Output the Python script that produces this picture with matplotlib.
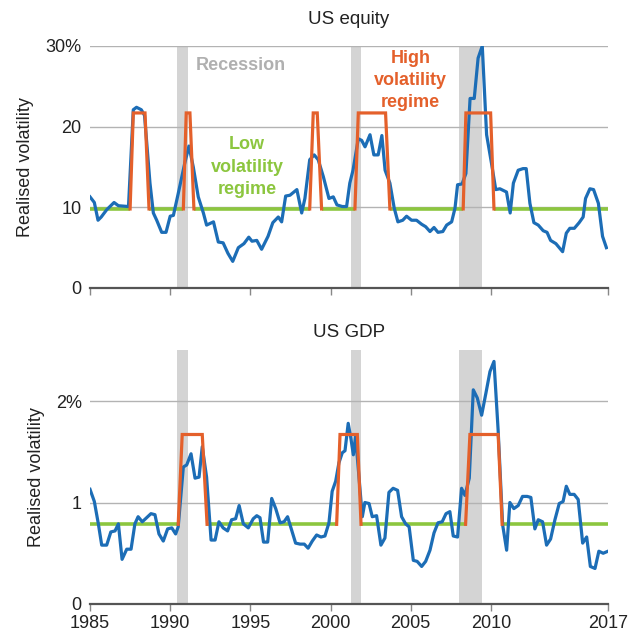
import numpy as np
import matplotlib
matplotlib.use("Agg")
import matplotlib.pyplot as plt

plt.rcParams['font.family'] = ['Liberation Sans', 'DejaVu Sans']

# US equity realised volatility (%)
eq_years = [1985.0, 1985.27, 1985.5, 1985.7, 1986.04, 1986.5, 1986.77, 1987.4, 1987.7, 1987.9,
            1988.2, 1988.4, 1988.74, 1988.95, 1989.16, 1989.47, 1989.74, 1990.0, 1990.2, 1990.5,
            1990.9, 1991.17, 1991.44, 1991.75, 1992.07, 1992.27, 1992.7, 1993.0, 1993.3, 1993.6,
            1993.9, 1994.25, 1994.6, 1994.9, 1995.1, 1995.4, 1995.7, 1996.1, 1996.4, 1996.74,
            1996.95, 1997.2, 1997.47, 1997.9, 1998.2, 1998.4, 1998.7, 1998.98, 1999.23, 1999.55,
            1999.9, 2000.17, 2000.4, 2000.73, 2001.0, 2001.2, 2001.4, 2001.73, 2001.94, 2002.15,
            2002.46, 2002.7, 2002.97, 2003.2, 2003.4, 2003.7, 2003.97, 2004.2, 2004.5, 2004.74,
            2005.05, 2005.36, 2005.68, 2005.93, 2006.2, 2006.45, 2006.7, 2007.0, 2007.24, 2007.55,
            2007.76, 2007.92, 2008.2, 2008.44, 2008.7, 2008.96, 2009.2, 2009.46, 2009.73, 2010.04,
            2010.3, 2010.56, 2010.97, 2011.2, 2011.4, 2011.7, 2012.0, 2012.2, 2012.43, 2012.68,
            2012.95, 2013.26, 2013.5, 2013.72, 2014.05, 2014.47, 2014.7, 2014.92, 2015.2, 2015.5,
            2015.75, 2015.9, 2016.17, 2016.4, 2016.7, 2016.96, 2017.2]
eq_vol = [11.3, 10.6, 8.4, 8.8, 9.7, 10.6, 10.2, 10.1, 22.1, 22.4,
          22.1, 21.4, 13.0, 9.3, 8.4, 6.9, 6.9, 8.9, 9.0, 11.7,
          15.4, 17.6, 15.0, 11.3, 9.3, 7.8, 8.2, 5.7, 5.6, 4.3,
          3.3, 5.0, 5.5, 6.3, 5.8, 5.9, 4.8, 6.4, 8.1, 8.8,
          8.2, 11.4, 11.5, 12.2, 9.3, 11.1, 15.9, 16.5, 15.9, 13.8,
          11.1, 11.3, 10.3, 10.1, 10.1, 13.0, 14.6, 18.5, 18.3, 17.5,
          19.0, 16.5, 16.5, 18.9, 14.6, 13.0, 9.9, 8.2, 8.4, 8.9,
          8.4, 8.4, 7.9, 7.6, 7.0, 7.5, 6.9, 7.0, 7.8, 8.2,
          9.9, 12.8, 12.9, 14.2, 23.5, 23.5, 28.5, 30.0, 19.0, 15.4,
          12.2, 12.3, 11.9, 9.3, 13.0, 14.6, 14.8, 14.8, 10.5, 8.1,
          7.8, 7.1, 6.9, 5.9, 5.5, 4.5, 6.8, 7.4, 7.4, 8.1,
          8.8, 11.1, 12.3, 12.2, 10.5, 6.4, 5.0]

# US GDP realised volatility (%)
gdp_years = [1985.0, 1985.27, 1985.52, 1985.73, 1986.04, 1986.3, 1986.56, 1986.77, 1987.0, 1987.29,
             1987.56, 1987.8, 1988.0, 1988.26, 1988.53, 1988.8, 1989.05, 1989.3, 1989.57, 1989.84,
             1990.1, 1990.34, 1990.5, 1990.82, 1991.03, 1991.3, 1991.55, 1991.8, 1992.0, 1992.27,
             1992.55, 1992.8, 1993.04, 1993.3, 1993.58, 1993.83, 1994.08, 1994.3, 1994.56, 1994.87,
             1995.18, 1995.4, 1995.6, 1995.82, 1996.08, 1996.33, 1996.58, 1996.85, 1997.1, 1997.32,
             1997.53, 1997.82, 1998.1, 1998.36, 1998.6, 1998.86, 1999.13, 1999.4, 1999.65, 1999.9,
             2000.1, 2000.32, 2000.52, 2000.73, 2000.9, 2001.1, 2001.27, 2001.42, 2001.56, 2001.77,
             2001.98, 2002.14, 2002.4, 2002.6, 2002.87, 2003.14, 2003.39, 2003.64, 2003.9, 2004.18,
             2004.43, 2004.68, 2004.9, 2005.16, 2005.4, 2005.68, 2005.93, 2006.2, 2006.45, 2006.7,
             2006.96, 2007.2, 2007.44, 2007.65, 2007.92, 2008.17, 2008.38, 2008.65, 2008.9, 2009.15,
             2009.42, 2009.69, 2009.94, 2010.19, 2010.45, 2010.73, 2010.98, 2011.18, 2011.43, 2011.7,
             2011.97, 2012.26, 2012.49, 2012.74, 2012.95, 2013.22, 2013.47, 2013.72, 2013.99, 2014.26,
             2014.5, 2014.7, 2014.92, 2015.19, 2015.44, 2015.72, 2015.97, 2016.2, 2016.49, 2016.73,
             2017.0, 2017.3]
gdp_vol = [1.13, 1.01, 0.79, 0.58, 0.58, 0.71, 0.72, 0.79, 0.44, 0.54,
           0.54, 0.79, 0.86, 0.81, 0.85, 0.89, 0.88, 0.69, 0.62, 0.74,
           0.75, 0.69, 0.76, 1.35, 1.37, 1.48, 1.24, 1.25, 1.55, 1.25,
           0.63, 0.63, 0.81, 0.75, 0.72, 0.83, 0.84, 0.97, 0.79, 0.75,
           0.84, 0.87, 0.85, 0.61, 0.61, 1.04, 0.94, 0.80, 0.81, 0.86,
           0.75, 0.60, 0.59, 0.59, 0.55, 0.62, 0.68, 0.66, 0.67, 0.80,
           1.11, 1.21, 1.39, 1.49, 1.51, 1.78, 1.63, 1.47, 1.65, 1.25,
           0.86, 1.00, 0.99, 0.86, 0.87, 0.58, 0.65, 1.10, 1.14, 1.12,
           0.86, 0.79, 0.76, 0.43, 0.42, 0.37, 0.42, 0.53, 0.70, 0.80,
           0.81, 0.89, 0.91, 0.67, 0.66, 1.14, 1.07, 1.24, 2.11, 2.03,
           1.86, 2.08, 2.29, 2.39, 1.71, 0.78, 0.53, 1.00, 0.94, 0.97,
           1.06, 1.06, 1.05, 0.74, 0.83, 0.81, 0.58, 0.64, 0.83, 0.99,
           1.01, 1.16, 1.08, 1.08, 1.03, 0.60, 0.66, 0.37, 0.35, 0.52,
           0.50, 0.52]

# regime levels and high-regime episodes (start rise, plateau start, plateau end, end fall)
eq_low, eq_high = 9.8, 21.7
eq_episodes = [(1987.5, 1987.7, 1988.43, 1988.68),
               (1990.82, 1991.0, 1991.23, 1991.48),
               (1998.7, 1998.92, 1999.17, 1999.44),
               (2001.52, 2001.73, 2003.43, 2003.7),
               (2008.27, 2008.44, 2009.98, 2010.19)]
gdp_low, gdp_high = 0.785, 1.67
gdp_episodes = [(1990.5, 1990.75, 1992.0, 1992.3),
                (2000.38, 2000.59, 2001.67, 2001.9),
                (2008.42, 2008.69, 2010.45, 2010.7)]

recessions = [(1990.45, 1991.1), (2001.25, 2001.9), (2008.0, 2009.42)]

x_start, x_end = 1985, 2017.3
xticks = [1985, 1990, 1995, 2000, 2005, 2010, x_end]
xticklabels = ['1985', '1990', '1995', '2000', '2005', '2010', '2017']

BLUE = '#1c6db6'
ORANGE = '#e4602b'
GREEN = '#8cc63f'
REC = '#d4d4d4'
GRID = '#b3b3b3'
TXT = '#222222'

fig = plt.figure(figsize=(6.3, 6.35), dpi=100)
ax1 = fig.add_axes([90/630, 347/635, 518/630, 242/635])
ax2 = fig.add_axes([90/630, 31/635, 518/630, 253.75/635])


def draw_panel(ax, years, vol, low, high, episodes, ymax, yticks, ylabels):
    for a, b in recessions:
        ax.axvspan(a, b, color=REC, lw=0, zorder=0)
    for y in yticks[1:]:
        ax.axhline(y, color=GRID, lw=1.0, zorder=1)
    # low regime segments
    edges = [x_start] + [v for e in episodes for v in (e[0], e[3])] + [x_end]
    for i in range(0, len(edges), 2):
        ax.plot([edges[i], edges[i + 1]], [low, low], color=GREEN, lw=2.6,
                solid_capstyle='butt', zorder=2)
    ax.plot(years, vol, color=BLUE, lw=2.3, zorder=3, solid_joinstyle='round')
    for e in episodes:
        ax.plot(e, [low, high, high, low], color=ORANGE, lw=2.3, zorder=4,
                solid_joinstyle='miter')
    ax.set_xlim(x_start, x_end)
    ax.set_ylim(0, ymax)
    ax.set_yticks(yticks)
    ax.set_yticklabels(ylabels)
    ax.set_xticks(xticks)
    for s in ['left', 'right', 'top']:
        ax.spines[s].set_visible(False)
    ax.spines['bottom'].set_color('#555555')
    ax.spines['bottom'].set_linewidth(1.6)
    ax.spines['bottom'].set_zorder(5)
    ax.tick_params(axis='y', length=0, pad=6, labelsize=13, labelcolor=TXT)
    ax.tick_params(axis='x', length=5, width=1, color='#888888', labelsize=13,
                   labelcolor=TXT, pad=3)
    ax.set_ylabel('Realised volatility', fontsize=13, color=TXT, labelpad=8)


draw_panel(ax1, eq_years, eq_vol, eq_low, eq_high, eq_episodes, 30,
           [0, 10, 20, 30], ['0', '10', '20', '30%'])
ax1.set_xticklabels([])
draw_panel(ax2, gdp_years, gdp_vol, gdp_low, gdp_high, gdp_episodes, 2.5,
           [0, 1, 2], ['0', '1', '2%'])
ax2.set_xticklabels(xticklabels)

fig.text(349/630, 1 - 20/635, 'US equity', ha='center', va='center', fontsize=13.5, color=TXT)
fig.text(349/630, 1 - 332/635, 'US GDP', ha='center', va='center', fontsize=13.5, color=TXT)

ax1.text(1994.4, 27.6, 'Recession', ha='center', va='center', fontsize=13,
         fontweight='bold', color='#b0b0b0')
ax1.text(2005.0, 25.7, 'High\nvolatility\nregime', ha='center', va='center', fontsize=13,
         fontweight='bold', color=ORANGE, linespacing=1.4)
ax1.text(1994.8, 15.0, 'Low\nvolatility\nregime', ha='center', va='center', fontsize=13,
         fontweight='bold', color=GREEN, linespacing=1.4)

fig.savefig('out.png', dpi=100)
